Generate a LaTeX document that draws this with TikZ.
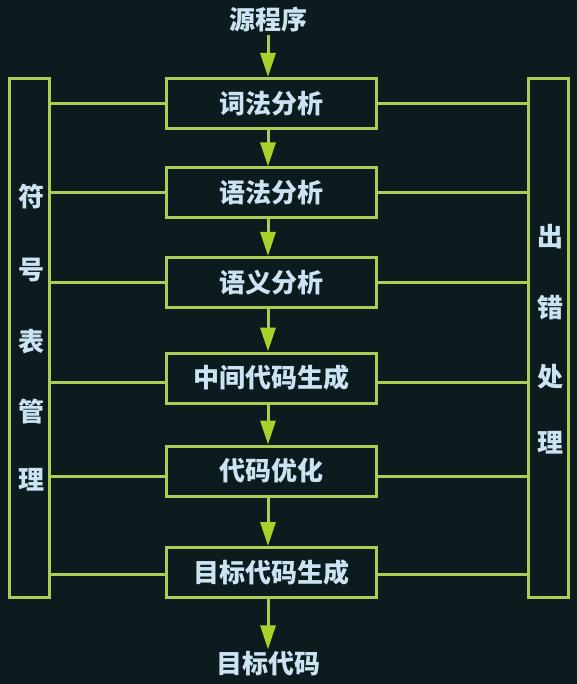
\documentclass[tikz,border=0pt]{standalone}
\usepackage{fontspec}
\newfontfamily\cjk{Noto Sans CJK SC}
\usetikzlibrary{arrows.meta}
\definecolor{bg}{HTML}{0C1B1D}
\definecolor{lc}{HTML}{ADCC55}
\definecolor{ac}{HTML}{A8D22A}
\definecolor{tc}{HTML}{CBE3F3}
\tikzset{
  stagebox/.style={draw=lc, line width=3pt, minimum width=210pt, minimum height=50pt,
    inner sep=0pt, text=tc, font=\cjk\bfseries\fontsize{26}{26}\selectfont},
  sidebar/.style={draw=lc, line width=3pt, minimum width=40pt, minimum height=519pt, inner sep=0pt},
  sidechar/.style={text=tc, inner sep=0pt, font=\cjk\bfseries\fontsize{26}{26}\selectfont},
  endtext/.style={text=tc, inner sep=2pt, font=\cjk\bfseries\fontsize{26}{26}\selectfont},
  flow/.style={draw=lc, line width=3pt, -{Triangle[width=15pt,length=24pt,color=ac]}},
  link/.style={draw=lc, line width=3pt},
}
\begin{document}
\begin{tikzpicture}[x=1pt,y=-1pt]
\fill[bg] (0,0) rectangle (577,684);
\useasboundingbox (0,0) rectangle (577,684);

\node[sidebar] (lbar) at (29,338) {};
\node[sidebar] (rbar) at (548,338) {};

\node[stagebox] (b1) at (271,103.5) {词法分析};
\node[stagebox] (b2) at (271,193) {语法分析};
\node[stagebox] (b3) at (271,282.5) {语义分析};
\node[stagebox] (b4) at (271,378) {中间代码生成};
\node[stagebox] (b5) at (271,471) {代码优化};
\node[stagebox] (b6) at (271,572.5) {目标代码生成};

\node[endtext] (src) at (268,20) {源程序};
\node[endtext] (dst) at (268,664) {目标代码};

\node[sidechar] (l1) at (31,197) {符};
\node[sidechar] (l2) at (31,270) {号};
\node[sidechar] (l3) at (31,342) {表};
\node[sidechar] (l4) at (31,412) {管};
\node[sidechar] (l5) at (31,480) {理};

\node[sidechar] (r1) at (550,237) {出};
\node[sidechar] (r2) at (550,308) {错};
\node[sidechar] (r3) at (550,377) {处};
\node[sidechar] (r4) at (550,443) {理};

\draw[flow] (src.south -| 268,0) -- (b1.north -| 268,0);
\draw[flow] (b1.south -| 268,0) -- (b2.north -| 268,0);
\draw[flow] (b2.south -| 268,0) -- (b3.north -| 268,0);
\draw[flow] (b3.south -| 268,0) -- (b4.north -| 268,0);
\draw[flow] (b4.south -| 268,0) -- (b5.north -| 268,0);
\draw[flow] (b5.south -| 268,0) -- (b6.north -| 268,0);
\draw[flow] (b6.south -| 268,0) -- (dst.north -| 268,0);

\foreach \b/\dy in {b1/0,b2/0,b3/0,b4/-4,b5/-5,b6/-2}{
  \draw[link] ([yshift=\dy pt]\b.west) -- ([yshift=\dy pt]\b.west -| lbar.east);
  \draw[link] ([yshift=\dy pt]\b.east) -- ([yshift=\dy pt]\b.east -| rbar.west);
}
\end{tikzpicture}
\end{document}
